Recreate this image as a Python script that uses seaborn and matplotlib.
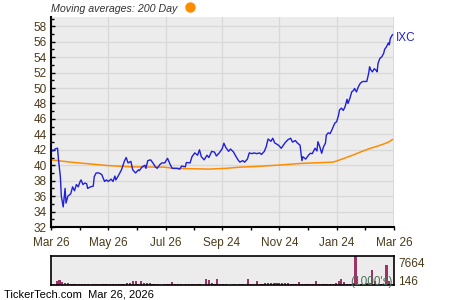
import matplotlib
matplotlib.use("Agg")
import matplotlib.pyplot as plt
import seaborn as sns
import pandas as pd
from matplotlib.ticker import MultipleLocator, FixedLocator
from matplotlib.lines import Line2D

# ---------------- data ----------------
price_days = [0, 2, 5, 7, 8, 10, 11, 13, 15, 16, 18, 21, 23, 25, 27, 29, 31, 32, 34, 36,
              38, 39, 42, 45, 46, 48, 51, 54, 57, 59, 61, 64, 66, 68, 69, 71, 75, 78, 80, 82,
              85, 87, 90, 93, 94, 97, 100, 101, 103, 106, 109, 111, 113, 116, 118, 121, 124, 127, 129, 134,
              137, 139, 143, 144, 148, 150, 153, 156, 158, 160, 163, 166, 168, 171, 174, 176, 179, 182, 184, 186,
              189, 191, 194, 197, 199, 201, 204, 206, 209, 211, 214, 216, 219, 222, 224, 227, 229, 231, 234, 236,
              238, 242, 245, 249, 252, 255, 257, 260, 262, 265, 267, 268, 271, 274, 276, 278, 281, 283, 284, 286,
              288, 290, 292, 293, 295, 297, 299, 300, 302, 304, 306, 307, 309, 311, 313, 315, 316, 318, 320, 322,
              323, 325, 327, 329, 331, 332, 336, 338, 339, 340, 342, 344, 346, 347, 348, 350, 352, 354, 355, 357,
              359, 360, 361, 363, 364, 365]
price = [42.1, 41.85, 42.15, 42.2, 40.7, 38.5, 36.0, 34.6, 37.0, 35.1, 36.0, 36.3, 37.2, 36.7, 37.5, 37.2, 37.9, 38.1, 37.5, 37.7,
         37.6, 37.0, 37.2, 37.3, 38.5, 39.0, 39.0, 38.8, 37.9, 38.1, 37.9, 38.2, 37.9, 38.6, 38.1, 38.5, 39.4, 40.5, 41.0, 40.3,
         40.5, 39.4, 39.0, 39.4, 39.3, 39.8, 40.0, 39.6, 40.6, 40.7, 40.2, 39.8, 39.6, 40.1, 40.3, 40.3, 40.9, 40.05, 39.6, 39.6,
         39.5, 39.9, 39.8, 40.35, 40.3, 41.1, 41.6, 41.3, 42.0, 41.1, 40.7, 41.3, 41.0, 41.8, 41.7, 41.2, 41.6, 42.1, 42.85, 42.3,
         41.8, 42.1, 41.75, 41.1, 40.7, 40.4, 40.6, 40.4, 40.8, 41.6, 41.5, 41.6, 41.5, 41.6, 41.4, 41.8, 42.4, 43.4, 43.1, 43.5,
         42.9, 42.6, 42.2, 42.9, 43.3, 43.5, 43.0, 43.2, 42.9, 42.6, 40.6, 41.1, 40.8, 41.3, 41.55, 41.5, 42.2, 41.85, 43.05, 42.4,
         41.55, 42.4, 42.85, 43.9, 44.2, 44.1, 44.6, 44.9, 45.45, 45.65, 46.5, 47.15, 47.4, 47.1, 47.6, 48.55, 48.0, 48.65, 49.5, 49.7,
         49.95, 49.5, 50.15, 50.6, 50.8, 50.85, 50.85, 51.9, 52.75, 52.4, 52.1, 52.5, 52.3, 52.1, 53.2, 53.85, 54.05, 54.5, 55.0, 55.35,
         55.85, 55.6, 56.4, 56.85, 56.95, 57.0]

ma_days = [0, 21, 39, 61, 85, 121, 130, 168, 186, 201, 219, 240, 268, 300, 304, 312, 322, 331, 340, 348, 354, 360, 363, 365]
ma200 = [40.7, 40.4, 40.2, 39.95, 39.8, 39.75, 39.6, 39.5, 39.6, 39.75, 39.85, 40.0, 40.25, 40.4, 40.55, 40.9, 41.35, 41.8,
         42.2, 42.5, 42.75, 43.05, 43.3, 43.4]

volume = [250, 300, 1100, 1300, 900, 600, 400, 350, 350, 350, 350, 350, 350, 300, 100, 350, 350, 350, 350, 350,
          300, 300, 300, 350, 300, 350, 350, 450, 500, 1000, 1000, 300, 1000, 400, 400, 600, 300, 350, 350, 100,
          350, 350, 350, 700, 350, 350, 300, 100, 350, 300, 300, 300, 300, 300, 100, 1550, 1200, 400, 300, 1500,
          350, 350, 350, 100, 100, 200, 100, 250, 250, 100, 1700, 350, 350, 1100, 350, 350, 400, 400, 400, 400,
          400, 400, 400, 400, 400, 350, 350, 350, 700, 350, 350, 350, 200, 300, 1000, 350, 350, 350, 350, 350,
          350, 600, 1000, 1700, 900, 300, 300, 400, 7664, 300, 300, 200, 400, 400, 4000, 1000, 350, 350, 350, 5200,
          1100, 300]
volume_days = [3 * i for i in range(len(volume))]

tick_days = [0, 61, 122, 182, 243, 304, 365]
tick_labels = ["Mar 26", "May 26", "Jul 26", "Sep 24", "Nov 24", "Jan 24", "Mar 26"]
y_ticks = [32, 34, 36, 38, 40, 42, 44, 46, 48, 50, 52, 54, 56, 58]
vol_max_label, vol_min_label = "7664", "146"

# ---------------- style ----------------
sns.set_theme(style="white")
plt.rcParams['font.family'] = ['Liberation Sans', 'DejaVu Sans']
label_color = "#4a3a1a"
bg = "#ececec"
grid_c = "#d8d8d8"
blue = "#2020d8"
orange = "#ff8c00"
vol_c = "#9b3366"

fig = plt.figure(figsize=(4.5, 3.0), dpi=100)
ax = fig.add_axes([0.1133, 0.2433, 0.7623, 0.70])
axv = fig.add_axes([0.1133, 0.05, 0.7623, 0.0967])

pdf = pd.DataFrame({"day": price_days, "price": price})
mdf = pd.DataFrame({"day": ma_days, "ma": ma200})
vdf = pd.DataFrame({"day": volume_days, "vol": volume})

ax.set_facecolor(bg)
sns.lineplot(data=mdf, x="day", y="ma", ax=ax, color=orange, linewidth=1.1)
sns.lineplot(data=pdf, x="day", y="price", ax=ax, color=blue, linewidth=1.0)
ax.set_xlim(0, 365)
ax.set_ylim(32, 59.2)
ax.set_xlabel("")
ax.set_ylabel("")
ax.set_yticks(y_ticks)
ax.yaxis.set_minor_locator(MultipleLocator(1))
ax.xaxis.set_major_locator(FixedLocator(tick_days))
ax.set_xticklabels(tick_labels)
ax.xaxis.set_minor_locator(FixedLocator([(a + b) / 2 for a, b in zip(tick_days[:-1], tick_days[1:])]))
ax.grid(True, which="major", color=grid_c, linewidth=0.9)
ax.set_axisbelow(True)
for s in ["top", "right"]:
    ax.spines[s].set_visible(False)
for s in ["left", "bottom"]:
    ax.spines[s].set_color("black")
    ax.spines[s].set_linewidth(1.5)
ax.tick_params(axis="y", which="both", direction="in", length=3, width=1, colors="black",
               labelcolor=label_color, labelsize=8.5, pad=3, left=True)
ax.tick_params(axis="y", which="minor", length=2)
ax.tick_params(axis="x", which="both", direction="out", length=2.5, width=1, colors="black",
               labelcolor=label_color, labelsize=8.5, pad=5, bottom=True)
ax.axvline(365, color=grid_c, linewidth=1.2)

ax.text(1.006, 0.9, "IXC", transform=ax.transAxes, color=blue, fontsize=8.5, va="center", ha="left")

# volume
axv.set_facecolor(bg)
sns.barplot(data=vdf, x="day", y="vol", ax=axv, native_scale=True, color=vol_c,
            width=0.75, errorbar=None, saturation=1, edgecolor="none")
axv.set_xlim(0, 365)
axv.set_ylim(0, 7664)
axv.set_xticks([])
axv.set_yticks([])
axv.set_xlabel("")
axv.set_ylabel("")
for s in axv.spines.values():
    s.set_visible(True)
    s.set_color("black")
    s.set_linewidth(1.2)
axv.text(1.012, 0.72, vol_max_label, transform=axv.transAxes, color=label_color, fontsize=8.5,
         va="center", ha="left")
axv.text(1.012, 0.1, vol_min_label, transform=axv.transAxes, color=label_color, fontsize=8.5,
         va="center", ha="left")
axv.text(0.995, 0.12, "(1000's)", transform=axv.transAxes, color="#4f6f5a", fontsize=8.5,
         va="center", ha="right")

# header / footer
fig.text(0.1133, 0.97, "Moving averages: 200 Day", fontsize=7.7, style="italic", color="#333333",
         va="center", ha="left")
fig.add_artist(Line2D([0.4222], [0.9757], marker="o", markersize=7.5, color=orange,
                      markeredgewidth=0, linestyle="none", transform=fig.transFigure))
fig.text(0.01, 0.018, "TickerTech.com  Mar 26, 2026", fontsize=8, color="black", va="center", ha="left")

fig.savefig("out.png", dpi=100)
